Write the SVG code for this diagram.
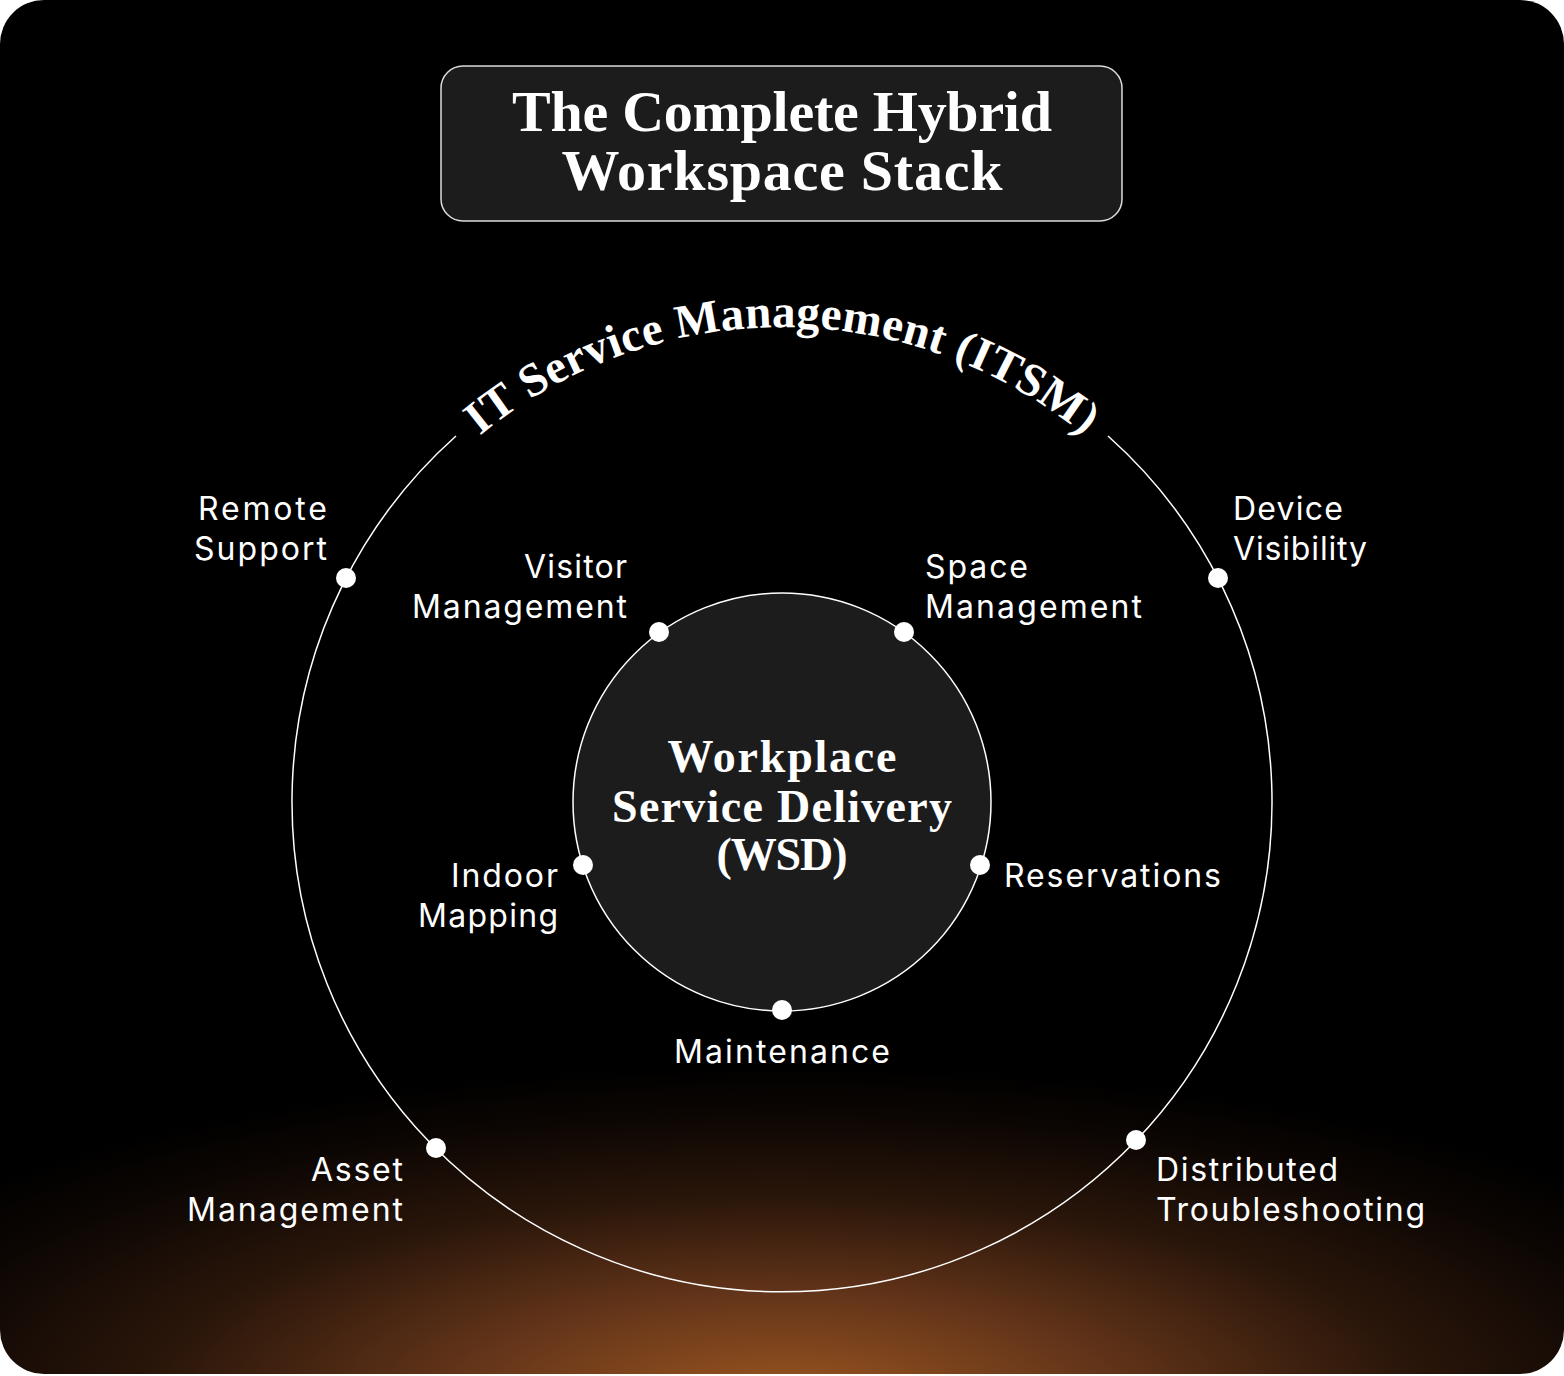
<svg xmlns="http://www.w3.org/2000/svg" width="1564" height="1376" viewBox="0 0 1564 1376">
<defs>
<radialGradient id="glow" gradientUnits="userSpaceOnUse" cx="782" cy="1400" r="1050" gradientTransform="translate(0 1400) scale(1 0.32) translate(0 -1400)">
<stop offset="0" stop-color="#9a561f"/>
<stop offset="0.3" stop-color="#66361a"/>
<stop offset="0.6" stop-color="#2a160a"/>
<stop offset="0.85" stop-color="#0c0603"/>
<stop offset="1" stop-color="#000000"/>
</radialGradient>
<path id="arcText" d="M 307 802 A 475 475 0 0 1 1257 802"/>
<style>
.lbl{font-family:Inter,"Liberation Sans",sans-serif;font-size:32px;fill:#ffffff;}
.ser{font-family:"Liberation Serif",serif;font-weight:bold;fill:#ffffff;}
.dot{fill:#ffffff;}
.ring{fill:none;stroke:#ffffff;stroke-width:1.5;}
</style>
</defs>
<rect x="0" y="0" width="1564" height="1376" fill="#ffffff"/>
<rect x="0" y="0" width="1564" height="1374" rx="44" fill="url(#glow)"/>

<g id="title">
<rect x="441" y="66" width="681" height="155" rx="22" fill="#1c1c1c" stroke="#ffffff" stroke-opacity="0.85" stroke-width="1.5"/>
<text class="ser" x="782" y="131" font-size="58" text-anchor="middle" textLength="540">The Complete Hybrid</text>
<text class="ser" x="782" y="190" font-size="58" text-anchor="middle" textLength="441">Workspace Stack</text>
</g>

<g id="connectors">
<path class="ring" d="M 1108 436 A 490 490 0 1 1 456 436"/>
</g>

<g id="itsm">
<text class="ser" font-size="47"><textPath href="#arcText" startOffset="50%" text-anchor="middle" textLength="655">IT Service Management (ITSM)</textPath></text>
</g>

<g id="wsd">
<circle cx="782" cy="802" r="209" fill="#1c1c1c" stroke="#ffffff" stroke-width="1.5"/>
<text class="ser" x="782" y="772" font-size="46" text-anchor="middle" textLength="229">Workplace</text>
<text class="ser" x="782" y="822" font-size="46" text-anchor="middle" textLength="340">Service Delivery</text>
<text class="ser" x="782" y="870" font-size="46" text-anchor="middle" textLength="131">(WSD)</text>
</g>

<g id="remote-support">
<circle class="dot" cx="346" cy="578" r="10"/>
<text class="lbl" x="327" y="520" text-anchor="end" textLength="129">Remote</text>
<text class="lbl" x="327" y="560" text-anchor="end" textLength="133">Support</text>
</g>
<g id="device-visibility">
<circle class="dot" cx="1218" cy="578" r="10"/>
<text class="lbl" x="1233" y="520" textLength="110">Device</text>
<text class="lbl" x="1233" y="560" textLength="134">Visibility</text>
</g>
<g id="asset-management">
<circle class="dot" cx="436" cy="1148" r="10"/>
<text class="lbl" x="403" y="1181" text-anchor="end" textLength="92">Asset</text>
<text class="lbl" x="403" y="1221" text-anchor="end" textLength="216">Management</text>
</g>
<g id="distributed-troubleshooting">
<circle class="dot" cx="1136" cy="1140" r="10"/>
<text class="lbl" x="1156" y="1181" textLength="182">Distributed</text>
<text class="lbl" x="1156" y="1221" textLength="269">Troubleshooting</text>
</g>
<g id="visitor-management">
<circle class="dot" cx="659" cy="632" r="10"/>
<text class="lbl" x="627" y="578" text-anchor="end" textLength="103">Visitor</text>
<text class="lbl" x="627" y="618" text-anchor="end" textLength="215">Management</text>
</g>
<g id="space-management">
<circle class="dot" cx="904" cy="632" r="10"/>
<text class="lbl" x="925" y="578" textLength="103">Space</text>
<text class="lbl" x="925" y="618" textLength="217">Management</text>
</g>
<g id="indoor-mapping">
<circle class="dot" cx="583" cy="865" r="10"/>
<text class="lbl" x="558" y="887" text-anchor="end" textLength="107">Indoor</text>
<text class="lbl" x="558" y="927" text-anchor="end" textLength="140">Mapping</text>
</g>
<g id="reservations">
<circle class="dot" cx="980" cy="865" r="10"/>
<text class="lbl" x="1004" y="887" textLength="217">Reservations</text>
</g>
<g id="maintenance">
<circle class="dot" cx="782" cy="1010" r="10"/>
<text class="lbl" x="782" y="1063" text-anchor="middle" textLength="216">Maintenance</text>
</g>
</svg>
